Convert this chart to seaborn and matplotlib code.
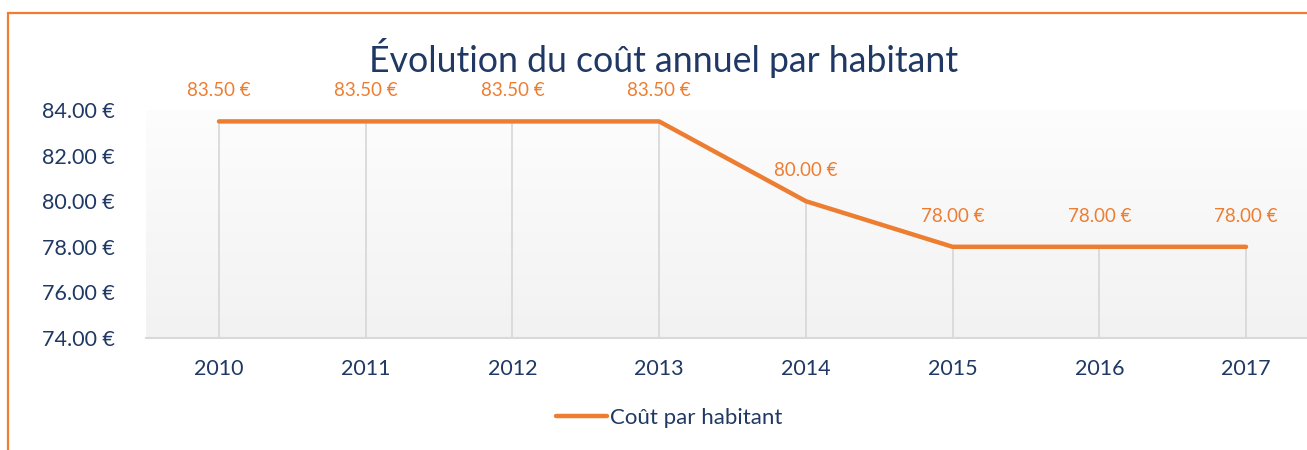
import numpy as np
import pandas as pd
import matplotlib.pyplot as plt
import seaborn as sns
from matplotlib.patches import Rectangle
from matplotlib.colors import LinearSegmentedColormap

# Data
years = ['2010', '2011', '2012', '2013', '2014', '2015', '2016', '2017']
cout = [83.5, 83.5, 83.5, 83.5, 80.0, 78.0, 78.0, 78.0]
y_ticks = [74, 76, 78, 80, 82, 84]

df = pd.DataFrame({'annee': years, 'cout': cout})

navy = '#1F3864'
orange = '#ED7D31'
grid_grey = '#D9D9D9'

sns.set_style('white')
plt.rcParams['font.family'] = ['Lato', 'DejaVu Sans']

W, H = 1307, 450
fig = plt.figure(figsize=(W / 100, H / 100), dpi=100)

# axes in pixel coords
left, right, top, bottom = 145.6, 1319.4, 110, 338
ax = fig.add_axes([left / W, 1 - bottom / H, (right - left) / W, (bottom - top) / H])

# gradient background
grad = np.linspace(0, 1, 256).reshape(-1, 1)
cmap = LinearSegmentedColormap.from_list('bg', ['#F2F2F2', '#FFFFFF'])
ax.imshow(grad, aspect='auto', cmap=cmap, origin='lower',
          extent=[-0.5, 7.5, 74, 86], zorder=0)

sns.lineplot(data=df, x='annee', y='cout', ax=ax, color=orange, linewidth=3.2,
             label='Coût par habitant', zorder=3, sort=False)

# drop lines
ax.vlines(range(len(years)), 74, cout, colors=grid_grey, linewidth=1.3, zorder=2)

for i, v in enumerate(cout):
    ax.annotate(f'{v:.2f} €', (i, v), xytext=(0, 22), textcoords='offset points',
                ha='center', va='center', color=orange, fontsize=13.5)

ax.set_xlim(-0.5, 7.5)
ax.set_ylim(74, 84)
ax.set_yticks(y_ticks)
ax.set_yticklabels([f'{t:.2f} €' for t in y_ticks])
ax.set_xlabel('')
ax.set_ylabel('')
ax.tick_params(axis='y', length=0, pad=22, labelsize=15.5, labelcolor=navy)
ax.tick_params(axis='x', length=0, pad=15, labelsize=15.5, labelcolor=navy)
for s in ['top', 'right', 'left']:
    ax.spines[s].set_visible(False)
ax.spines['bottom'].set_color(grid_grey)
ax.spines['bottom'].set_linewidth(1.5)

ax.legend_.remove()
handles, labels = ax.get_legend_handles_labels()
fig.legend(handles, labels, loc='center', bbox_to_anchor=(669 / W, 1 - 418 / H),
           frameon=False, fontsize=16, labelcolor=navy, handlelength=2.3,
           handletextpad=0.15)

fig.text(664 / W, 1 - 58 / H, 'Évolution du coût annuel par habitant',
         ha='center', va='center', fontsize=25.7, color=navy)

# outer frame (only top and left visible)
frame = Rectangle((8 / W, -0.2), 1.2, 1 - 13 / H + 0.2, transform=fig.transFigure,
                  fill=False, edgecolor=orange, linewidth=1.6)
fig.patches.append(frame)

fig.savefig('out.png', dpi=100)
